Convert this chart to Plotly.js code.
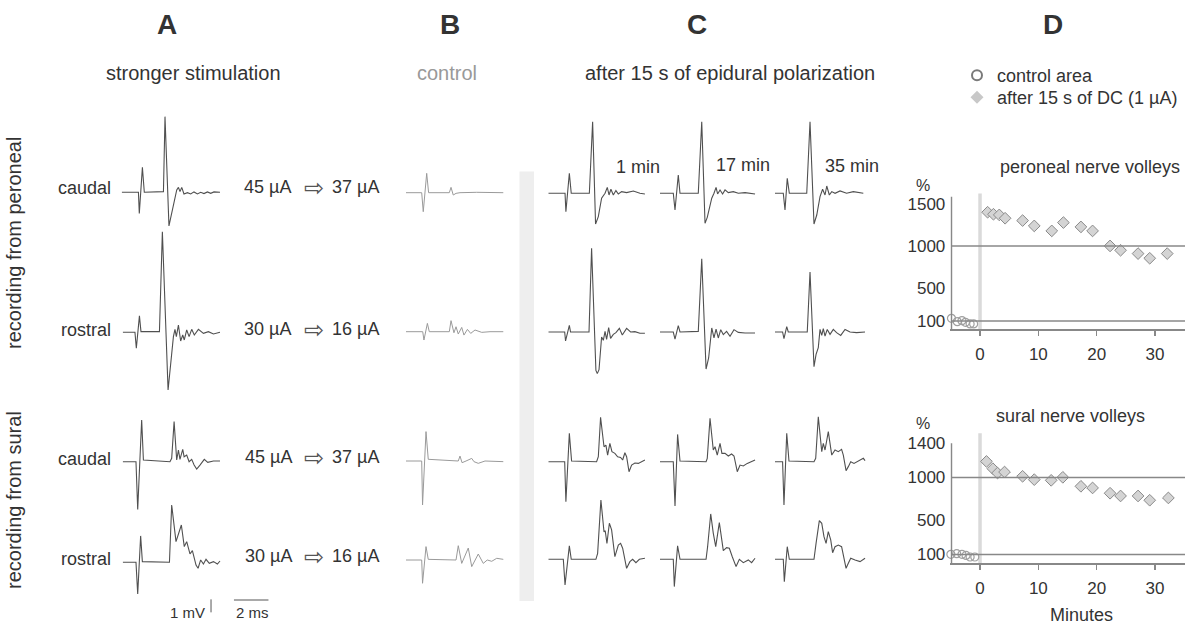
<!DOCTYPE html>
<html><head><meta charset="utf-8">
<script src="https://cdn.plot.ly/plotly-3.0.1.min.js"></script>
<style>html,body{margin:0;padding:0;background:#fff}#chart{width:1188px;height:624px}</style>
</head><body><div id="chart"></div>
<script>
// ---------- waveform data: time (ms), voltage (mV) ----------
// A: stronger stimulation
const aCaudalPeronealT = [0,0.97,1.02,1.20,1.31,2.42,2.51,2.74,3.19,3.29,3.38,3.48,3.61,3.81,4.0,4.19,4.39,4.58,4.77,4.97,5.16,5.35,5.70];
const aCaudalPeronealV = [0,0,-1.62,1.92,0,0.05,5.82,-2.59,0.18,0.38,0.05,0.38,-0.13,-0.03,-0.13,0.03,-0.13,0,-0.1,0.03,-0.08,0.03,0];
const aRostralPeronealT = [0,0.71,0.79,0.97,1.06,2.13,2.30,2.63,2.94,3.03,3.11,3.23,3.36,3.48,3.57,3.71,3.85,4.0,4.15,4.39,4.68,4.97,5.26,5.64];
const aRostralPeronealV = [0,0,-1.23,1.26,0.05,0.05,7.74,-4.44,-0.33,0.23,-0.33,0.56,-0.67,-0.21,-0.59,0.18,-0.33,0.23,-0.21,0.23,-0.08,0.05,-0.13,0];
const aCaudalSuralT = [0,0.77,0.87,1.10,1.20,2.74,2.84,2.98,3.13,3.23,3.32,3.48,3.56,3.71,3.85,4.0,4.14,4.29,4.48,4.73,4.93,5.26,5.64];
const aCaudalSuralV = [0,0,-3.67,3.21,0.13,0,0.26,3.08,0.13,0.90,0.18,0.95,0.38,0.51,0,0.18,-0.26,-0.56,-0.26,0.18,-0.05,0.05,0.05];
const aRostralSuralT = [0,0.77,0.87,1.04,1.14,2.71,2.84,3.09,3.40,3.57,3.71,3.90,4.04,4.25,4.37,4.52,4.68,4.83,5.02,5.26,5.49,5.64];
const aRostralSuralV = [0,0,-2.44,2.03,0.05,0,4.41,1.59,2.87,1.21,1.59,0.64,0.90,-0.21,-0.46,0.18,-0.13,0.23,-0.08,0.05,-0.13,0.1];
// B: control
const bCaudalPeronealT = [0,0.91,1.0,1.20,1.31,2.51,2.61,2.74,2.90,3.13,4.1,5.64];
const bCaudalPeronealV = [0,0,-1.46,1.49,0,0,0.41,-0.18,-0.05,0,0.03,0];
const bRostralPeronealT = [0,0.97,1.04,1.24,1.35,2.51,2.61,2.78,2.90,3.03,3.23,3.36,3.56,3.75,4.0,4.39,4.87,5.64];
const bRostralPeronealV = [0,0,-0.64,0.64,0,0,0.85,-0.08,0.38,-0.18,0.33,-0.26,0.18,-0.13,0.13,-0.05,0,0];
const bCaudalSuralT = [0,0.91,0.96,1.16,1.29,3.03,3.13,3.25,3.48,3.81,3.94,4.19,4.58,5.64];
const bCaudalSuralV = [0,0,-3.38,2.26,0.13,0,0.38,-0.13,0,0.2,-0.05,-0.18,0,-0.05];
const bRostralSuralT = [0,0.91,0.96,1.16,1.29,2.90,3.03,3.23,3.61,3.81,4.19,4.48,4.71,4.97,5.26,5.64];
const bRostralSuralV = [0,0,-1.79,1.03,0.05,0,1.10,-0.26,0.92,-0.51,0.46,-0.26,0,-0.1,0.13,0.05];
// C: after 15 s of epidural polarization (1, 17, 35 min)
const cCaudalPeroneal1T = [0,0.97,1.02,1.22,1.33,2.38,2.57,2.74,2.90,3.09,3.29,3.42,3.52,3.63,3.77,3.92,4.06,4.25,4.54,4.93,5.31,5.60];
const cCaudalPeroneal1V = [0,0,-1.41,1.54,0,0,5.5,-2.36,-1.79,-0.38,0,0.46,-0.13,0.31,-0.13,0.21,-0.05,0.13,0.05,0.18,0,-0.05];
const cCaudalPeroneal17T = [0,0.77,0.87,1.06,1.16,2.22,2.42,2.61,2.74,3.0,3.13,3.25,3.34,3.48,3.63,3.77,3.96,4.25,4.54,4.93,5.51];
const cCaudalPeroneal17V = [0,0,-1.28,1.41,0,0,5.5,-2.31,-1.85,-0.38,0,0.46,-0.05,0.26,-0.05,0.26,0.05,0.13,0,0.05,-0.05];
const cCaudalPeroneal35T = [0,0.48,0.58,0.71,0.83,1.84,2.03,2.26,2.42,2.61,2.76,2.90,3.0,3.15,3.29,3.48,3.77,4.15,4.54,5.12];
const cCaudalPeroneal35V = [0,0,-1.28,1.15,0,0,5.5,-2.36,-1.67,-0.26,0.31,-0.13,0.56,-0.13,0.13,0,0.18,0,0.13,0];
const cRostralPeroneal1T = [0,0.95,1.0,1.22,1.29,2.36,2.51,2.76,2.84,2.94,3.09,3.19,3.29,3.38,3.50,3.61,3.77,3.92,4.12,4.29,4.54,4.77,5.02,5.31,5.60];
const cRostralPeroneal1V = [0,0,-0.69,0.51,0,0,6.44,-2.95,-3.2,-2.9,-0.38,-0.64,0.05,-0.56,0.33,-0.49,-0.18,-0.05,0.28,-0.23,0.28,0,0.03,-0.1,-0.1];
const cRostralPeroneal17T = [0,0.77,0.87,1.06,1.16,2.22,2.42,2.67,2.82,3.0,3.13,3.25,3.38,3.52,3.67,3.86,4.06,4.29,4.54,4.93,5.51];
const cRostralPeroneal17V = [0,0,-0.54,0.49,0,0.05,5.64,-2.85,-2.0,0.31,-0.46,0.23,-0.46,0.18,-0.2,0.05,-0.33,0.18,-0.03,-0.08,-0.08];
const cRostralPeroneal35T = [0,0.44,0.52,0.68,0.77,1.87,2.03,2.26,2.38,2.51,2.61,2.71,2.80,2.90,3.03,3.19,3.38,3.57,3.81,4.06,4.35,4.73,5.22];
const cRostralPeroneal35V = [0,0,-0.51,0.41,0,0,4.62,-2.67,-1.72,-1.2,0.2,-0.26,0.26,-0.31,0.2,-0.18,0.2,-0.05,-0.26,0.2,0,-0.05,0];
const cCaudalSural1T = [0,0.95,1.02,1.22,1.35,2.80,2.90,3.03,3.23,3.34,3.44,3.57,3.69,3.86,4.02,4.19,4.31,4.44,4.54,4.68,4.83,5.02,5.22,5.41,5.60];
const cCaudalSural1V = [0,0,-3.08,2.18,0.05,0,0.38,3.41,1.15,1.28,0.51,1.41,0.77,0.64,0.38,0.33,0.13,0.69,0.38,-0.77,-0.26,-0.1,-0.13,0,0.13];
const cCaudalSural17T = [0,0.77,0.87,1.02,1.16,2.67,2.74,2.90,3.09,3.19,3.32,3.48,3.59,3.77,3.96,4.15,4.29,4.48,4.64,4.83,5.06,5.31,5.51];
const cCaudalSural17V = [0,0,-3.41,2.10,0.05,0,0.26,3.33,0.90,1.15,0.51,1.41,0.64,0.64,0.44,0.59,0.44,-0.77,-0.26,-0.33,-0.13,0,0.13];
const cCaudalSural35T = [0,0.44,0.52,0.68,0.81,2.26,2.36,2.51,2.71,2.80,2.90,3.09,3.29,3.48,3.67,3.86,3.96,4.12,4.25,4.39,4.58,4.83,5.12,5.22];
const cCaudalSural35V = [0,0,-3.33,2.18,0.05,0,0.26,3.46,0.77,1.41,0.9,2.31,0.51,0.9,0.77,0.95,0.51,-0.69,-0.38,0,-0.13,0.05,0.26,0.08];
const cRostralSural1T = [0,0.87,0.97,1.22,1.33,2.76,2.86,3.05,3.23,3.30,3.40,3.54,3.67,3.86,4.06,4.19,4.31,4.39,4.54,4.73,4.89,5.08,5.28,5.60];
const cRostralSural1V = [0,0,-1.97,1.03,0,0,0.46,4.56,2.10,2.2,1.23,2.77,2.26,0.21,1.10,1.23,0.85,0.2,-0.69,-0.18,0,-0.26,0,0.08];
const cRostralSural17T = [0,0.77,0.83,1.02,1.16,2.67,2.76,2.94,3.09,3.23,3.44,3.57,3.67,3.86,4.02,4.19,4.41,4.60,4.83,5.12,5.31,5.51];
const cRostralSural17V = [0,0,-2.10,1.03,0,0,0.97,3.49,2.0,0.97,2.82,1.5,0.67,0.90,0.85,0.2,-0.56,0,-0.26,-0.05,-0.26,0.08];
const cRostralSural35T = [0,0.48,0.54,0.71,0.83,2.26,2.38,2.57,2.71,2.84,2.96,3.09,3.23,3.34,3.48,3.67,3.86,3.96,4.12,4.25,4.39,4.64,4.93,5.22];
const cRostralSural35V = [0,0,-1.72,0.97,0,0,1.23,2.97,2.77,1.74,1.23,2.13,1.49,0.51,0.97,1.10,0.97,0.33,-0.69,-0.31,0.08,-0.05,-0.18,0.08];

// ---------- panel D data: minutes, % ----------
const minutesControlPeroneal = [-4.9,-3.9,-3.1,-2.5,-1.7,-1.1];
const percentControlPeroneal = [132,92,104,84,64,64];
const minutesDCPeroneal = [1.3,2.3,3.3,4.3,7.3,9.3,12.3,14.3,17.3,19.3,22.3,24.1,27.1,29.1,32.1];
const percentDCPeroneal = [1404,1380,1372,1332,1304,1240,1180,1280,1228,1180,1000,948,908,852,908];
const minutesControlSural = [-5.0,-4.0,-3.1,-2.4,-1.7,-0.9];
const percentControlSural = [101,109,101,89,70,70];
const minutesDCSural = [1.1,2.2,3.0,4.2,7.3,9.3,12.2,14.2,17.3,19.3,22.3,24.1,27.1,29.1,32.3];
const percentDCSural = [1188,1103,1052,1064,1014,975,967,1002,897,878,816,784,784,734,761];
const minuteTicks = [0,10,20,30];
const peronealTicks = [100,500,1000,1500];
const suralTicks = [100,500,1000,1400];
const referenceLevels = [100,1000];

// ---------- text ----------
const panelLetters = ['A','B','C','D'];
const panelHeaders = ['stronger stimulation','control','after 15 s of epidural polarization'];
const rowLabels = ['caudal','rostral','caudal','rostral'];
const groupLabels = ['recording from peroneal','recording from sural'];
const thresholdsBefore = ['45 µA','30 µA','45 µA','30 µA'];
const thresholdsAfter = ['37 µA','16 µA','37 µA','16 µA'];
const timeLabels = ['1 min','17 min','35 min'];
const legendNames = ['control area','after 15 s of DC (1 µA)'];

// ---------- layout geometry (pixels) ----------
const W = 1188, H = 624;
const PX_PER_MS = 17.25, PX_PER_MV = 13, Y_LO = -4.7, Y_HI = 8;
const FONT = 'Liberation Sans, Arial, sans-serif';
const DARK = '#505050', LIGHT = '#9a9a9a', TXT = '#333';
const fx = px => px / W, fy = px => 1 - px / H;

const traces = [];
const legendBox = y => ({x: fx(957), y: fy(y), xanchor: 'left', yanchor: 'top', font: {size: 18, color: TXT},
  bgcolor: 'rgba(0,0,0,0)', itemwidth: 30});
const layout = {
  width: W, height: H, margin: {l:0,r:0,t:0,b:0},
  paper_bgcolor: '#fff', plot_bgcolor: 'rgba(0,0,0,0)',
  font: {family: FONT, color: TXT},
  showlegend: true,
  legend: legendBox(57),
  legend2: legendBox(79),
  shapes: [], annotations: []
};

let axisCount = 0;
function wave(T, V, left, base, color, width, xmax) {
  axisCount++;
  const n = axisCount === 1 ? '' : axisCount;
  xmax = xmax || 6;
  layout['xaxis' + n] = {domain: [fx(left), fx(left + xmax * PX_PER_MS)], range: [0, xmax],
    visible: false, fixedrange: true, anchor: 'y' + n};
  layout['yaxis' + n] = {domain: [fy(base - Y_LO * PX_PER_MV), fy(base - Y_HI * PX_PER_MV)], range: [Y_LO, Y_HI],
    visible: false, fixedrange: true, anchor: 'x' + n};
  traces.push({x: T, y: V, xaxis: 'x' + n, yaxis: 'y' + n, type: 'scatter', mode: 'lines',
    line: {color: color, width: width, shape: 'linear'}, hoverinfo: 'skip', showlegend: false, cliponaxis: false});
  return n;
}

const rowBase = [192.3, 332.3, 461.7, 562.3];
const LW = 1.1, LWB = 1.0;
// A
wave(aCaudalPeronealT, aCaudalPeronealV, 121.7, rowBase[0], DARK, LW);
wave(aRostralPeronealT, aRostralPeronealV, 122.7, rowBase[1], DARK, LW);
wave(aCaudalSuralT, aCaudalSuralV, 122.7, rowBase[2], DARK, LW);
const scaleAxis = wave(aRostralSuralT, aRostralSuralV, 122.7, rowBase[3], DARK, LW, 8.7);
// B
wave(bCaudalPeronealT, bCaudalPeronealV, 406, 192.7, LIGHT, LWB);
wave(bRostralPeronealT, bRostralPeronealV, 406, 331.7, LIGHT, LWB);
wave(bCaudalSuralT, bCaudalSuralV, 406, 461, LIGHT, LWB);
wave(bRostralSuralT, bRostralSuralV, 406, 560, LIGHT, LWB);
// C
const cLeft = [548.3, 660, 775];
const cBase = [193.3, 332, 461.7, 559.3];
wave(cCaudalPeroneal1T, cCaudalPeroneal1V, cLeft[0], cBase[0], DARK, LW);
wave(cCaudalPeroneal17T, cCaudalPeroneal17V, cLeft[1], cBase[0], DARK, LW);
wave(cCaudalPeroneal35T, cCaudalPeroneal35V, cLeft[2], cBase[0], DARK, LW);
wave(cRostralPeroneal1T, cRostralPeroneal1V, cLeft[0], cBase[1], DARK, LW);
wave(cRostralPeroneal17T, cRostralPeroneal17V, cLeft[1], cBase[1], DARK, LW);
wave(cRostralPeroneal35T, cRostralPeroneal35V, cLeft[2], cBase[1], DARK, LW);
wave(cCaudalSural1T, cCaudalSural1V, cLeft[0], cBase[2], DARK, LW);
wave(cCaudalSural17T, cCaudalSural17V, cLeft[1], cBase[2], DARK, LW);
wave(cCaudalSural35T, cCaudalSural35V, cLeft[2], cBase[2], DARK, LW);
wave(cRostralSural1T, cRostralSural1V, cLeft[0], cBase[3], DARK, LW);
wave(cRostralSural17T, cRostralSural17V, cLeft[1], cBase[3], DARK, LW);
wave(cRostralSural35T, cRostralSural35V, cLeft[2], cBase[3], DARK, LW);

// scale bars (1 mV, 2 ms) in the A rostral sural axes
layout.shapes.push({type:'line', xref:'x'+scaleAxis, yref:'y'+scaleAxis, x0:5.12, x1:5.12, y0:-2.85, y1:-3.85, line:{color:'#555', width:1}});
layout.shapes.push({type:'line', xref:'x'+scaleAxis, yref:'y'+scaleAxis, x0:6.45, x1:8.45, y0:-2.9, y1:-2.9, line:{color:'#555', width:1}});

// grey separator band
layout.shapes.push({type:'rect', xref:'paper', yref:'paper', x0:fx(519.5), x1:fx(534), y0:fy(601), y1:fy(171.5), fillcolor:'#eeeeee', line:{width:0}, layer:'below'});

// ---------- panel D ----------
const D_LEFT = 950.3, D_RIGHT = 1185, X_MIN = -5.1, X_MAX = 35.15;
function dPanel(n, bottomPx, pxPerUnit, yMax, yAxisTop, greyTop, ticks, ctrlX, ctrlY, dcX, dcY) {
  layout['xaxis' + n] = {domain: [fx(D_LEFT), fx(D_RIGHT)], range: [X_MIN, X_MAX], anchor: 'y' + n,
    showline: true, linecolor: '#888', linewidth: 1.5, ticks: 'outside', ticklen: 5, tickcolor: '#888', tickwidth: 1.2,
    tickvals: minuteTicks, ticktext: minuteTicks.map(String), tickfont: {size: 17, color: TXT},
    showgrid: false, zeroline: false, fixedrange: true, ticklabelstandoff: 4};
  layout['yaxis' + n] = {domain: [fy(bottomPx), fy(bottomPx - yMax * pxPerUnit)], range: [0, yMax], anchor: 'x' + n,
    showline: false, ticks: '', tickvals: ticks, ticktext: ticks.map(String), tickfont: {size: 17, color: TXT},
    showgrid: false, zeroline: false, fixedrange: true, ticklabelstandoff: 4};
  const xr = 'x' + n, yr = 'y' + n;
  layout.shapes.push({type:'line', xref:xr, yref:yr, x0:0, x1:0, y0:0, y1:greyTop, line:{color:'#dadada', width:3.5}, layer:'below'});
  layout.shapes.push({type:'line', xref:xr, yref:yr, x0:-4.9, x1:-4.9, y0:0, y1:yAxisTop, line:{color:'#888', width:1.5}});
  referenceLevels.forEach(v => layout.shapes.push({type:'line', xref:xr, yref:yr, x0:-4.9, x1:X_MAX, y0:v, y1:v, line:{color:'#888', width:1.5}}));
  traces.push({x: ctrlX, y: ctrlY, xaxis: xr, yaxis: yr, type: 'scatter', mode: 'markers', name: legendNames[0],
    marker: {symbol: 'circle-open', size: 8, color: '#a0a0a0', line: {width: 1.2}}, cliponaxis: false, showlegend: false, hoverinfo: 'skip'});
  traces.push({x: dcX, y: dcY, xaxis: xr, yaxis: yr, type: 'scatter', mode: 'markers', name: legendNames[1],
    marker: {symbol: 'diamond', size: 9, color: '#d4d4d4', line: {color: '#8a8a8a', width: 1}}, cliponaxis: false, showlegend: false, hoverinfo: 'skip'});
}
dPanel(21, 329.3, 0.08338, 1640, 1590, 1630, peronealTicks, minutesControlPeroneal, percentControlPeroneal, minutesDCPeroneal, percentDCPeroneal);
dPanel(22, 563, 0.0855, 1530, 1400, 1518, suralTicks, minutesControlSural, percentControlSural, minutesDCSural, percentDCSural);

// legend keys (no data)
traces.push({x: [null], y: [null], xaxis: 'x21', yaxis: 'y21', type: 'scatter', mode: 'markers', name: legendNames[0],
  marker: {symbol: 'circle-open', size: 10, color: '#7a7a7a', line: {width: 2}}, legend: 'legend', showlegend: true, hoverinfo: 'skip'});
traces.push({x: [null], y: [null], xaxis: 'x21', yaxis: 'y21', type: 'scatter', mode: 'markers', name: legendNames[1],
  marker: {symbol: 'diamond', size: 10, color: '#c8c8c8', line: {color: '#c8c8c8', width: 0}}, legend: 'legend2', showlegend: true, hoverinfo: 'skip'});

// ---------- annotations ----------
function ann(text, x, y, o) {
  o = o || {};
  layout.annotations.push({text: text, xref: 'paper', yref: 'paper', x: fx(x), y: fy(y),
    xanchor: o.xa || 'center', yanchor: 'middle', showarrow: false,
    font: {family: o.family || FONT, size: o.size || 18, color: o.color || TXT}, textangle: o.angle || 0});
}
const letterX = [167, 450, 697, 1053];
panelLetters.forEach((t, i) => ann('<b>' + t + '</b>', letterX[i], 25, {size: 28}));
ann(panelHeaders[0], 193, 73, {size: 20});
ann(panelHeaders[1], 447, 73, {size: 20, color: '#999'});
ann(panelHeaders[2], 730, 73, {size: 20});
const rowLabelY = [188, 330, 459, 559];
rowLabels.forEach((t, i) => ann(t, 113, rowLabelY[i], {xa: 'right'}));
ann(groupLabels[0], 14, 243, {angle: -90, size: 20});
ann(groupLabels[1], 14, 500, {angle: -90, size: 20});
const thrY = [187, 329, 457, 556];
const thrX = [241.5, 241.5, 243, 243];
thrY.forEach((y, i) => {
  ann(thresholdsBefore[i], thrX[i], y, {xa: 'left'});
  ann('⇨', 314, y + 1, {family: 'DejaVu Sans', size: 24, color: '#555'});
  ann(thresholdsAfter[i], 330, y, {xa: 'left'});
});
const timeX = [637.7, 743, 852], timeY = [167, 165, 166];
timeLabels.forEach((t, i) => ann(t, timeX[i], timeY[i]));
ann('1 mV', 206.5, 612, {xa: 'right', size: 15});
ann('2 ms', 252, 612, {size: 15});
ann('peroneal nerve volleys', 1090, 167);
ann('%', 923, 185, {size: 16});
ann('sural nerve volleys', 1070, 416);
ann('%', 923, 423, {size: 16});
ann('Minutes', 1081, 615);

Plotly.newPlot('chart', traces, layout, {displayModeBar: false, staticPlot: true});
</script>
</body></html>
